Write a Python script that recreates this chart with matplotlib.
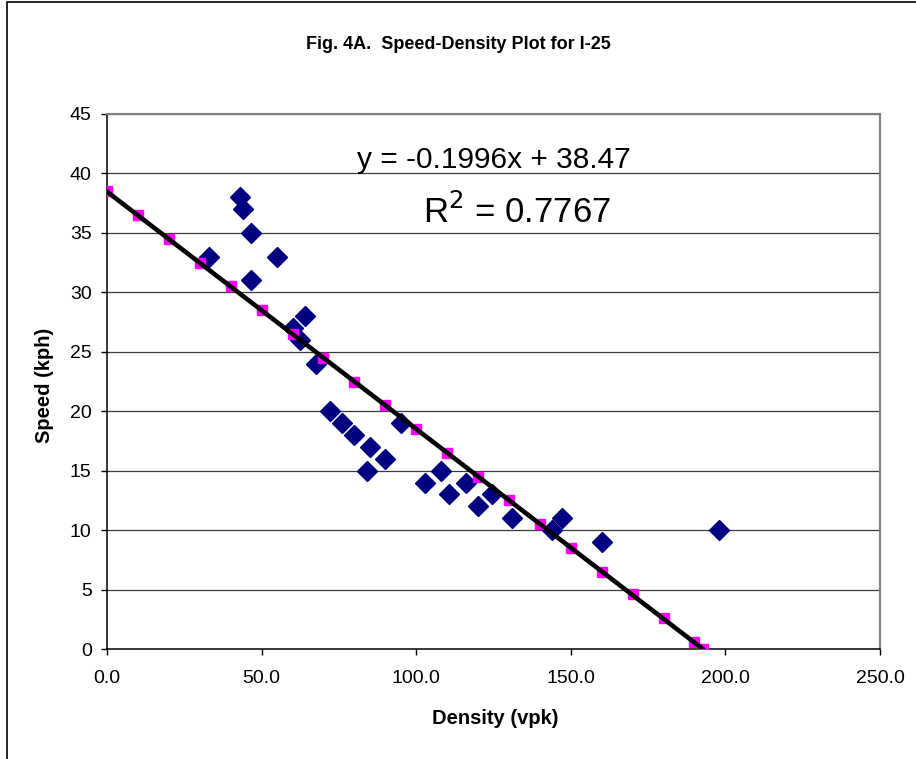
import matplotlib.pyplot as plt
from matplotlib.patches import Rectangle

# ======================================================
# Data
# ======================================================

density = [
    43, 44, 46.5, 33, 55, 46.5, 64, 60, 62.5, 67.5,
    72, 76, 80, 85, 90, 84, 95, 103, 108, 110.5,
    116, 120, 124.5, 131, 147, 144, 160, 198
]
speed = [
    38, 37, 35, 33, 33, 31, 28, 27, 26, 24,
    20, 19, 18, 17, 16, 15, 19, 14, 15, 13,
    14, 12, 13, 11, 11, 10, 9, 10
]

# predicted points (pink squares)
pred_density = [
    0, 10, 20, 30, 40, 50, 60, 70, 80, 90,
    100, 110, 120, 130, 140, 150, 160, 170, 180, 190, 192.7
]
pred_speed = [
    38.5, 36.5, 34.5, 32.5, 30.5, 28.5, 26.5, 24.5, 22.5, 20.5,
    18.5, 16.5, 14.5, 12.5, 10.5, 8.5, 6.5, 4.6, 2.6, 0.6, 0.0
]

# trend line end points
fit_density = [0, 192.7]
fit_speed = [38.47, 0.0]

x_ticks = [0, 50, 100, 150, 200, 250]
x_tick_labels = ["0.0", "50.0", "100.0", "150.0", "200.0", "250.0"]
y_ticks = [0, 5, 10, 15, 20, 25, 30, 35, 40, 45]

plt.rcParams['font.family'] = ['Liberation Sans', 'DejaVu Sans']

W, H = 916, 759

# ======================================================
# Figure
# ======================================================

fig = plt.figure(figsize=(W / 100, H / 100), dpi=100)

fig.patches.append(
    Rectangle(
        (6.5 / W, -0.05), 1.2, 1 - 2 / H + 0.05,
        transform=fig.transFigure,
        fill=False,
        edgecolor="black",
        linewidth=1.2
    )
)

ax = fig.add_axes([107 / W, 1 - 649 / H, 773 / W, 535 / H])

# ----------------------------
# Grid
# ----------------------------

for y in y_ticks[1:]:
    ax.axhline(y, color="#3a3a3a", linewidth=0.9, zorder=1)

# ----------------------------
# Series
# ----------------------------

ax.plot(
    density, speed,
    linestyle="none",
    marker="D",
    markersize=10.5,
    color="#000080",
    markeredgecolor="#000080",
    zorder=3
)

ax.plot(
    pred_density, pred_speed,
    linestyle="none",
    marker="s",
    markersize=7,
    color="#FF00FF",
    markeredgecolor="#FF00FF",
    zorder=4
)

ax.plot(
    fit_density, fit_speed,
    color="black",
    linewidth=3.3,
    zorder=5
)

# ----------------------------
# Axes
# ----------------------------

ax.set_xlim(0, 250)
ax.set_ylim(0, 45)

ax.set_xticks(x_ticks)
ax.set_xticklabels(x_tick_labels)
ax.set_yticks(y_ticks)

ax.tick_params(
    axis="both",
    direction="out",
    length=4,
    width=1,
    labelsize=14
)
ax.tick_params(axis="x", pad=11)
ax.tick_params(axis="y", pad=7)

ax.spines["left"].set_color("black")
ax.spines["bottom"].set_color("black")
ax.spines["left"].set_linewidth(1.1)
ax.spines["bottom"].set_linewidth(1.1)
ax.spines["top"].set_color("#808080")
ax.spines["right"].set_color("#808080")
ax.spines["top"].set_linewidth(1.5)
ax.spines["right"].set_linewidth(1.5)

fig.text(
    495 / W, 1 - 718 / H,
    "Density (vpk)",
    ha="center", va="center",
    fontsize=14.5, fontweight="bold"
)

fig.text(
    45 / W, 1 - 385 / H,
    "Speed (kph)",
    ha="center", va="center",
    rotation=90,
    fontsize=14.5, fontweight="bold"
)

# ----------------------------
# Title and equation
# ----------------------------

fig.text(
    458 / W, 1 - 49 / H,
    "Fig. 4A.  Speed-Density Plot for I-25",
    ha="center", va="baseline",
    fontsize=13, fontweight="bold"
)

fig.text(
    493.5 / W, 1 - 168 / H,
    "y = -0.1996x + 38.47",
    ha="center", va="baseline",
    fontsize=21.5
)

fig.text(
    516.5 / W, 1 - 223 / H,
    r"R$^2$ = 0.7767",
    ha="center", va="baseline",
    fontsize=25
)

plt.savefig("out.png", dpi=100)
